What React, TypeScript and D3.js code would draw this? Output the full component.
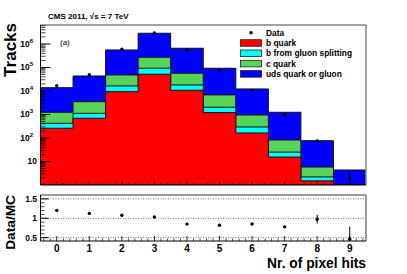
import React from 'react';
import * as d3 from 'd3';

// pixel hit bins 0..9
const hits = [0, 1, 2, 3, 4, 5, 6, 7, 8, 9];
const bQuark = [260, 690, 9350, 51500, 10700, 1200, 163, 15.5, 1.5, 0.1];
const bGluonSplit = [160, 430, 6950, 41500, 7300, 830, 131, 9.5, 0.7, 0.05];
const cQuark = [820, 2380, 31700, 179000, 39000, 4770, 656, 57, 3.6, 0.3];
const udsGluon = [12560, 40000, 508000, 2578000, 599000, 85700, 11250, 1158, 71, 3.9];
const dataCounts = [16600, 49000, 600000, 2940000, 558000, 76000, 10400, 967, 75, 2];

const yTickPowers = [1, 2, 3, 4, 5, 6];
const ratioTicks = [0.5, 1, 1.5];

const legendItems = [
  { label: 'b quark', color: '#ff0000' },
  { label: 'b from gluon splitting', color: '#00ffff' },
  { label: 'c quark', color: '#57d357' },
  { label: 'uds quark or gluon', color: '#0000ff' },
];

const W = 407, H = 274;
const font = '"Liberation Sans", Arial, Helvetica, sans-serif';

const App = () => {
  const left = 40.5, right = 366;
  const top1 = 25, bot1 = 185;
  const top2 = 195, bot2 = 241;

  const x = d3.scaleLinear().domain([-0.5, 9.5]).range([left, right]);
  const y = d3.scaleLog().domain([1, 6.4e6]).range([bot1, top1]).clamp(true);
  const yr = d3.scaleLinear().domain([0.415, 1.6]).range([bot2, top2]);

  // cumulative stacks, drawn from the total down
  const s1 = bQuark;
  const s2 = s1.map((v, i) => v + bGluonSplit[i]);
  const s3 = s2.map((v, i) => v + cQuark[i]);
  const s4 = s3.map((v, i) => v + udsGluon[i]);
  const total = s4;
  const stacks = [
    { vals: s4, color: legendItems[3].color },
    { vals: s3, color: legendItems[2].color },
    { vals: s2, color: legendItems[1].color },
    { vals: s1, color: legendItems[0].color },
  ];

  const stepArea = (vals: number[]) => {
    const pts = hits.map((h, i) => [h - 0.5, vals[i]] as [number, number]);
    pts.push([9.5, vals[vals.length - 1]]);
    return d3.area<[number, number]>()
      .x(d => x(d[0]))
      .y0(bot1)
      .y1(d => y(Math.max(d[1], 1)))
      .curve(d3.curveStepAfter)(pts) as string;
  };

  const ratio = dataCounts.map((d, i) => d / total[i]);
  const ratioErr = dataCounts.map((d, i) => Math.sqrt(d) / total[i]);

  // log minor ticks
  const minorLog: number[] = [];
  for (let p = 0; p <= 6; p++) {
    for (let m = 2; m <= 9; m++) {
      const v = m * Math.pow(10, p);
      if (v < 6.4e6) minorLog.push(v);
    }
  }
  const xMinor = d3.range(-0.4, 9.5, 0.2).filter(v => Math.abs(v - Math.round(v)) > 0.01);
  const rMinor = d3.range(0.5, 1.6, 0.1).filter(v => ratioTicks.every(t => Math.abs(t - v) > 0.01));

  return (
    <svg width={W} height={H} style={{ position: 'absolute', left: 0, top: 0, background: '#fff' }}
      fontFamily={font}>
      <defs>
        <clipPath id="clipTop"><rect x={left} y={top1} width={right - left} height={bot1 - top1} /></clipPath>
        <clipPath id="clipBot"><rect x={left} y={top2} width={right - left} height={bot2 - top2} /></clipPath>
      </defs>

      <text x={48} y={19} fontSize={8} fontWeight="bold">CMS 2011, √s = 7 TeV</text>

      {/* stacked histograms */}
      <g clipPath="url(#clipTop)">
        {stacks.map((s, k) => (
          <path key={k} d={stepArea(s.vals)} fill={s.color} stroke="#111" strokeWidth={1} />
        ))}
        {dataCounts.map((d, i) => {
          const e = Math.sqrt(d);
          return (
            <g key={i}>
              <line x1={x(hits[i])} x2={x(hits[i])} y1={y(Math.max(d - e, 1))} y2={y(d + e)} stroke="#000" strokeWidth={1} />
              <circle cx={x(hits[i])} cy={y(d)} r={1.7} fill="#000" />
            </g>
          );
        })}
      </g>

      {/* top frame */}
      <line x1={left} x2={right} y1={top1} y2={top1} stroke="#444" strokeWidth={1} />
      <line x1={right} x2={right} y1={top1} y2={bot1} stroke="#888" strokeWidth={1.5} />
      <line x1={left} x2={left} y1={top1} y2={bot1} stroke="#000" strokeWidth={1} />
      <line x1={left} x2={right} y1={bot1} y2={bot1} stroke="#000" strokeWidth={1} />
      {yTickPowers.map(p => (
        <line key={p} x1={left} x2={left + 10} y1={y(Math.pow(10, p))} y2={y(Math.pow(10, p))} stroke="#000" />
      ))}
      {minorLog.map((v, i) => (
        <line key={i} x1={left} x2={left + 5} y1={y(v)} y2={y(v)} stroke="#000" strokeWidth={0.7} />
      ))}
      {hits.map(h => (
        <line key={h} x1={x(h)} x2={x(h)} y1={bot1} y2={bot1 - 4} stroke="#000" strokeWidth={0.8} />
      ))}
      {xMinor.map((v, i) => (
        <line key={i} x1={x(v)} x2={x(v)} y1={bot1} y2={bot1 - 2} stroke="#000" strokeWidth={0.7} />
      ))}
      {yTickPowers.map(p => (
        <text key={p} x={p === 1 ? 37 : 33} y={y(Math.pow(10, p)) + 3} fontSize={8.5} fontWeight="bold" textAnchor="end">
          10{p > 1 ? <tspan dy={-4} fontSize={6}>{p}</tspan> : null}
        </text>
      ))}
      <text transform={`translate(16,${top1 - 2}) rotate(-90)`} fontSize={17} fontWeight="bold" textAnchor="end">Tracks</text>
      <text x={60} y={45} fontSize={8}>(a)</text>

      {/* legend */}
      <g fontSize={8.4} fontWeight="bold">
        <circle cx={251} cy={32.7} r={1.7} fill="#000" />
        <text x={266} y={35.7}>Data</text>
        {legendItems.map((it, i) => (
          <g key={it.label} transform={`translate(0,${43 + i * 10.3})`}>
            <rect x={240.5} y={-3.3} width={21} height={6.6} fill={it.color} stroke="#222" strokeWidth={0.8} />
            <text x={266} y={3}>{it.label}</text>
          </g>
        ))}
      </g>

      {/* ratio panel */}
      {ratioTicks.map(t => (
        <line key={t} x1={left} x2={right} y1={yr(t)} y2={yr(t)} stroke="#444" strokeWidth={0.8} strokeDasharray="1,1.5" />
      ))}
      <g clipPath="url(#clipBot)">
        {ratio.map((r, i) => (
          <g key={i}>
            <line x1={x(hits[i])} x2={x(hits[i])} y1={yr(r - ratioErr[i])} y2={yr(r + ratioErr[i])} stroke="#000" strokeWidth={1} />
            <circle cx={x(hits[i])} cy={yr(r)} r={1.7} fill="#000" />
          </g>
        ))}
      </g>
      <line x1={left} x2={right} y1={top2} y2={top2} stroke="#999" strokeWidth={2} />
      <line x1={right} x2={right} y1={top2} y2={bot2} stroke="#999" strokeWidth={2} />
      <line x1={left} x2={left} y1={top2} y2={bot2} stroke="#000" strokeWidth={1} />
      <line x1={left} x2={right} y1={bot2} y2={bot2} stroke="#000" strokeWidth={1} />
      {ratioTicks.map(t => (
        <line key={t} x1={left} x2={left + 8} y1={yr(t)} y2={yr(t)} stroke="#000" />
      ))}
      {rMinor.map((v, i) => (
        <line key={i} x1={left} x2={left + 4} y1={yr(v)} y2={yr(v)} stroke="#000" strokeWidth={0.7} />
      ))}
      {hits.map(h => (
        <line key={h} x1={x(h)} x2={x(h)} y1={bot2} y2={bot2 - 5} stroke="#000" strokeWidth={0.8} />
      ))}
      {xMinor.map((v, i) => (
        <line key={i} x1={x(v)} x2={x(v)} y1={bot2} y2={bot2 - 2.5} stroke="#000" strokeWidth={0.7} />
      ))}
      {ratioTicks.map(t => (
        <text key={t} x={37} y={yr(t) + 3} fontSize={8.5} fontWeight="bold" textAnchor="end">{t}</text>
      ))}
      {hits.map(h => (
        <text key={h} x={x(h)} y={251.7} fontSize={10} fontWeight="bold" textAnchor="middle">{h}</text>
      ))}
      <text transform={`translate(15,${top2}) rotate(-90)`} fontSize={13.7} fontWeight="bold" textAnchor="end">Data/MC</text>
      <text x={right} y={268} fontSize={13.8} fontWeight="bold" textAnchor="end">Nr. of pixel hits</text>
    </svg>
  );
};

export default App;
